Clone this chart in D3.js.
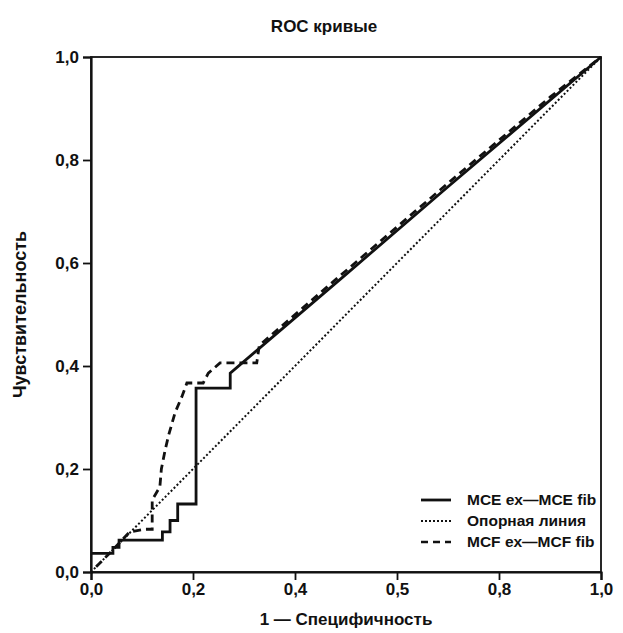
<!DOCTYPE html>
<html>
<head>
<meta charset="utf-8">
<script src="https://cdn.jsdelivr.net/npm/d3@7"></script>
<style>
  body { margin: 0; background: #fff; }
  text { font-family: "Liberation Sans", Arial, sans-serif; fill: #111; }
</style>
</head>
<body>
<script>
// Значения
var xTicks = [0, 0.2, 0.4, 0.6, 0.8, 1];
var xTickLabels = ["0,0", "0,2", "0,4", "0,5", "0,8", "1,0"];
var yTicks = [0, 0.2, 0.4, 0.6, 0.8, 1];
var yTickLabels = ["0,0", "0,2", "0,4", "0,6", "0,8", "1,0"];

var legendNames = ["MCE ex\u2014MCE fib", "Опорная линия", "MCF ex\u2014MCF fib"];

// MCE ex—MCE fib (сплошная)
var mce = [[0, 0.036], [0.043, 0.036], [0.043, 0.048], [0.055, 0.048], [0.055, 0.062],
           [0.14, 0.062], [0.14, 0.078], [0.155, 0.078], [0.155, 0.1], [0.17, 0.1],
           [0.17, 0.132], [0.206, 0.132], [0.206, 0.357], [0.273, 0.357],
           [0.273, 0.386], [0.5, 0.578], [0.7, 0.748], [1, 1]];

// Опорная линия (пунктир точками)
var ref = [[0, 0], [1, 1]];

// MCF ex—MCF fib (штрих)
var mcf = [[0.01, 0.01], [0.04, 0.04], [0.076, 0.078], [0.106, 0.083], [0.12, 0.083],
           [0.12, 0.14], [0.135, 0.165], [0.138, 0.2], [0.145, 0.235], [0.152, 0.265],
           [0.165, 0.31], [0.178, 0.34], [0.188, 0.367], [0.22, 0.367], [0.23, 0.386],
           [0.253, 0.406], [0.325, 0.406], [0.33, 0.44], [0.5, 0.585], [0.7, 0.755],
           [0.9, 0.922], [1, 1]];

var vis = {
  width: 623,
  height: 633,
  left: 91,
  right: 601,
  top: 57,
  bottom: 572
};

var svg = d3.select("body").append("svg")
  .attr("width", vis.width)
  .attr("height", vis.height);

var x = d3.scaleLinear().domain([0, 1]).range([vis.left, vis.right]);
var y = d3.scaleLinear().domain([0, 1]).range([vis.bottom, vis.top]);

// рамка
svg.append("rect")
  .attr("x", x(0))
  .attr("y", y(1))
  .attr("width", x(1) - x(0))
  .attr("height", y(0) - y(1))
  .attr("fill", "none")
  .attr("stroke", "#111")
  .attr("stroke-width", 1.8);

var xAxis = svg.append("g")
  .attr("transform", "translate(0," + vis.bottom + ")")
  .call(d3.axisBottom(x).tickValues(xTicks).tickSize(8).tickPadding(3)
    .tickFormat(function(d, i) { return xTickLabels[i]; }));

var yAxis = svg.append("g")
  .attr("transform", "translate(" + vis.left + ",0)")
  .call(d3.axisLeft(y).tickValues(yTicks).tickSize(8).tickPadding(4)
    .tickFormat(function(d, i) { return yTickLabels[i]; }));

[xAxis, yAxis].forEach(function(a) {
  a.select(".domain").attr("stroke", "#111").attr("stroke-width", 2.2);
  a.selectAll(".tick line").attr("stroke", "#111").attr("stroke-width", 1.8);
  a.selectAll(".tick text")
    .attr("fill", "#111")
    .style("font-family", "'Liberation Sans', Arial, sans-serif")
    .style("font-size", "17px")
    .style("font-weight", "bold");
});

var line = d3.line()
  .x(function(d) { return x(d[0]); })
  .y(function(d) { return y(d[1]); });

var series = [
  { data: ref, width: 2, dash: "2,2.2" },
  { data: mcf, width: 2.8, dash: "8,5" },
  { data: mce, width: 2.8, dash: null }
];

svg.selectAll("path.roc")
  .data(series)
  .enter()
  .append("path")
  .attr("class", "roc")
  .attr("d", function(s) { return line(s.data); })
  .attr("fill", "none")
  .attr("stroke", "#111")
  .attr("stroke-width", function(s) { return s.width; })
  .attr("stroke-dasharray", function(s) { return s.dash; })
  .attr("stroke-linejoin", "miter");

// легенда
var legendStyles = [
  { width: 2.8, dash: null },
  { width: 1.8, dash: "2,2" },
  { width: 2.4, dash: "7,5" }
];

var legend = svg.selectAll("g.legend")
  .data(legendNames)
  .enter()
  .append("g")
  .attr("class", "legend")
  .attr("transform", function(d, i) { return "translate(421," + (500 + i * 21) + ")"; });

legend.append("line")
  .attr("x1", 0)
  .attr("x2", 30)
  .attr("stroke", "#111")
  .attr("stroke-width", function(d, i) { return legendStyles[i].width; })
  .attr("stroke-dasharray", function(d, i) { return legendStyles[i].dash; });

legend.append("text")
  .attr("x", 46)
  .attr("dy", "0.35em")
  .style("font-size", "15.5px")
  .style("font-weight", "bold")
  .text(function(d) { return d; });

// заголовки
svg.append("text")
  .attr("x", 324)
  .attr("y", 32)
  .attr("text-anchor", "middle")
  .style("font-size", "17px")
  .style("font-weight", "bold")
  .text("ROC кривые");

svg.append("text")
  .attr("x", (vis.left + vis.right) / 2)
  .attr("y", 625)
  .attr("text-anchor", "middle")
  .style("font-size", "17px")
  .style("font-weight", "bold")
  .text("1 \u2014 Специфичность");

svg.append("text")
  .attr("transform", "translate(26," + ((vis.top + vis.bottom) / 2) + ") rotate(-90)")
  .attr("text-anchor", "middle")
  .style("font-size", "18px")
  .style("font-weight", "bold")
  .text("Чувствительность");
</script>
</body>
</html>
